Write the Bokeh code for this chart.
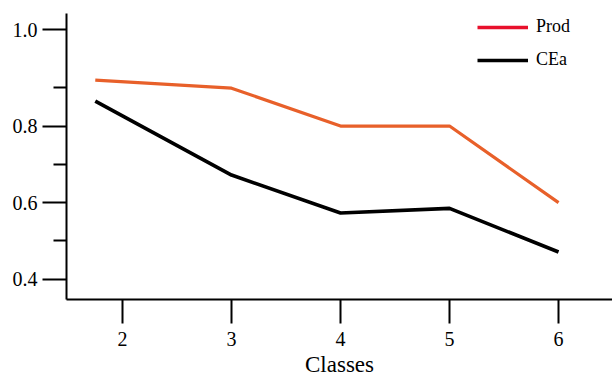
from bokeh.plotting import figure
from bokeh.models import Range1d, FixedTicker, Legend, LegendItem
from bokeh.embed import file_html
from bokeh.resources import INLINE

# data
x_pos = [1.75, 3, 4, 5, 6]
prod = [0.920, 0.899, 0.800, 0.800, 0.600]
cea = [0.865, 0.672, 0.573, 0.585, 0.471]
x_ticks = [2, 3, 4, 5, 6]
y_tick_values = [0.4, 0.6, 0.8, 1.051]
y_tick_labels = ["0.4", "0.6", "0.8", "1.0"]
y_minor_ticks = [0.5, 0.7, 0.9]

FONT = "Liberation Serif"
ORANGE = "#E8602A"
RED = "#E8102C"
NAN = float("nan")

p = figure(width=612, height=379, output_backend="svg", toolbar_location=None,
           x_range=Range1d(1.486, 6.495), y_range=Range1d(0.347, 1.094),
           min_border_left=66, min_border_top=13, min_border_right=0, min_border_bottom=79)
p.outline_line_color = None
p.grid.visible = False
p.background_fill_color = "white"
p.border_fill_color = "white"

r_prod = p.line(x_pos, prod, line_color=ORANGE, line_width=3.2)
r_cea = p.line(x_pos, cea, line_color="black", line_width=3.6)
r_prod_legend = p.line(x=[NAN, NAN], y=[NAN, NAN], line_color=RED, line_width=3.6)

# y axis
ya = p.yaxis[0]
ya.ticker = FixedTicker(ticks=y_tick_values, minor_ticks=y_minor_ticks)
ya.major_label_overrides = {v: t for v, t in zip(y_tick_values, y_tick_labels)}
ya.axis_line_width = 2
ya.major_tick_line_width = 2
ya.minor_tick_line_width = 2
ya.major_tick_out = 24
ya.major_tick_in = 0
ya.minor_tick_out = 13
ya.minor_tick_in = 0
ya.major_label_standoff = 5
ya.major_label_text_font = FONT
ya.major_label_text_font_size = "20px"
ya.major_label_text_color = "black"

# x axis
xa = p.xaxis[0]
xa.ticker = FixedTicker(ticks=x_ticks, minor_ticks=[])
xa.axis_line_width = 2
xa.major_tick_line_width = 2
xa.major_tick_out = 24
xa.major_tick_in = 0
xa.major_label_standoff = 8
xa.major_label_text_font = FONT
xa.major_label_text_font_size = "20px"
xa.major_label_text_color = "black"
xa.axis_label = "Classes"
xa.axis_label_text_font = FONT
xa.axis_label_text_font_size = "23px"
xa.axis_label_text_font_style = "normal"
xa.axis_label_text_color = "black"
xa.axis_label_standoff = 3

legend = Legend(items=[LegendItem(label="Prod", renderers=[r_prod_legend]),
                       LegendItem(label="CEa", renderers=[r_cea])],
                location=(411, 229), padding=0, margin=0, spacing=12,
                glyph_width=51, glyph_height=20, label_height=20,
                label_standoff=8, border_line_color=None,
                background_fill_alpha=0, label_text_color="black",
                label_text_font=FONT, label_text_font_size="18px")
p.add_layout(legend, "center")

open("out.html", "w").write(file_html(p, INLINE))
